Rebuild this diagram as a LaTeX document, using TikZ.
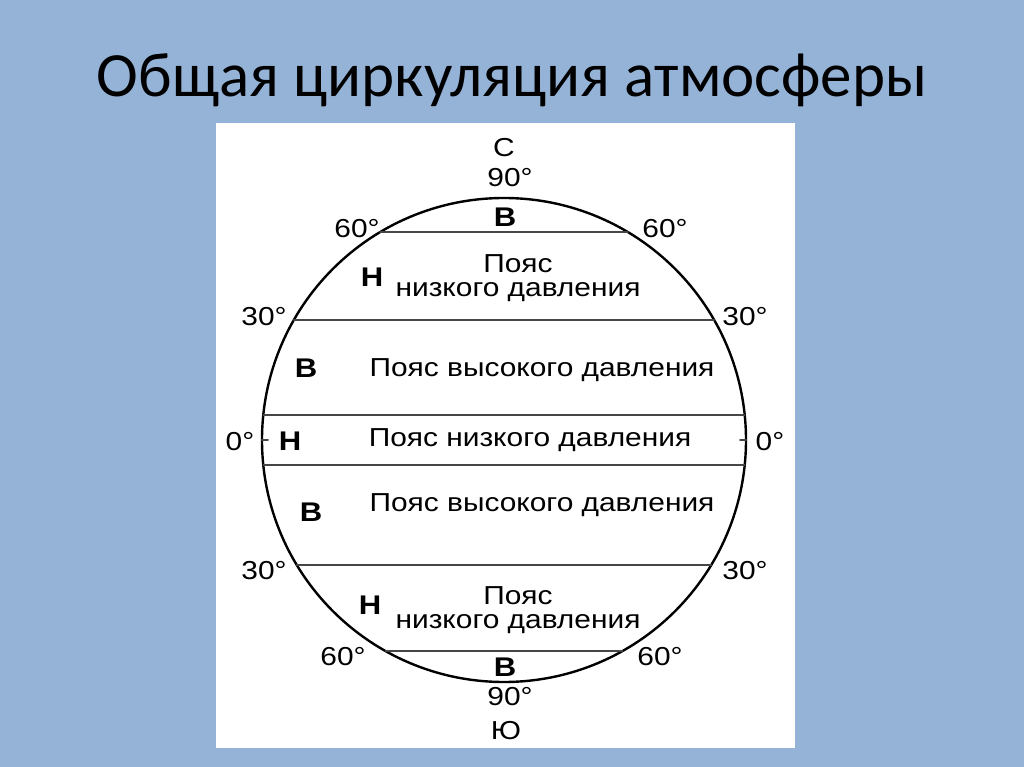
\documentclass[tikz,border=0pt]{standalone}
\usepackage{fontspec}
\setmainfont{Liberation Sans}[FakeStretch=1.15]
\newfontfamily\slidefont{Carlito}
\definecolor{slideblue}{RGB}{149,179,215}
\definecolor{bandgray}{RGB}{70,70,70}
\tikzset{
  slidetitle/.style={font=\slidefont\fontsize{63}{63}\selectfont,inner sep=0pt},
  deg/.style={font=\fontsize{26}{26}\selectfont,inner sep=0pt},
  beltname/.style={font=\fontsize{26}{24}\selectfont,inner sep=0pt,align=center},
  pres/.style={font=\bfseries\fontsize{27}{27}\selectfont,inner sep=0pt},
  globe/.style={line width=2.4pt},
  band/.style={line width=2pt,draw=bandgray},
}
\begin{document}
\begin{tikzpicture}[x=1pt,y=1pt,line join=round,line cap=round]
	\fill[slideblue] (-504,-327) rectangle (520,440);
	\useasboundingbox (-504,-327) rectangle (520,440);
	\node[slidetitle] (title) at (8,360) {Общая циркуляция атмосферы};
	\fill[white] (-288,317) rectangle (291,-308);
	\coordinate (O) at (0,0);
	\draw[globe] (O) circle (242);
	% latitudes
	\coordinate (N60l) at (120.8:242);
	\coordinate (N60r) at (59.2:242);
	\coordinate (N30l) at (150.3:242);
	\coordinate (N30r) at (29.7:242);
	\coordinate (Eql) at (174.1:242);
	\coordinate (Eqr) at (5.9:242);
	\coordinate (Esl) at (185.9:242);
	\coordinate (Esr) at (-5.9:242);
	\coordinate (S30l) at (211.1:242);
	\coordinate (S30r) at (-31.1:242);
	\coordinate (S60l) at (240.7:242);
	\coordinate (S60r) at (-60.7:242);
	\draw[band] (N60l) -- (N60r) (N30l) -- (N30r) (Eql) -- (Eqr)
		(Esl) -- (Esr) (S30l) -- (S30r) (S60l) -- (S60r);
	% equator ticks
	\coordinate (E0l) at (-242,0);
	\coordinate (E0r) at (242,0);
	\draw[band] (E0l) -- ++(6,0) (E0r) -- ++(-6,0);
	% degrees and poles
	\foreach \n/\p/\t in {north/{0,292}/С, top90/{6,262}/90°,
		d60nl/{-147,211}/60°, d60nr/{161,211}/60°,
		d30nl/{-240,123}/30°, d30nr/{241,123}/30°,
		d0l/{-264,-2}/0°, d0r/{266,-2}/0°,
		d30sl/{-240,-131}/30°, d30sr/{241,-131}/30°,
		d60sl/{-161,-217}/60°, d60sr/{156,-217}/60°,
		bot90/{6,-257}/90°, south/{2,-291}/Ю}
		\node[deg] (\n) at (\p) {\t};
	% pressure
	\foreach \n/\p/\t in {hpN/{1,223}/В, lpN/{-132,163}/Н, hpNt/{-198,72}/В,
		lpEq/{-214,-1}/Н, hpSt/{-193,-72}/В, lpS/{-134,-165}/Н, hpS/{1,-227}/В}
		\node[pres] (\n) at (\p) {\t};
	% belts
	\node[beltname] (beltN) at (14,162) {Пояс\\низкого давления};
	\node[beltname] (beltNt) at (38,70) {Пояс высокого давления};
	\node[beltname] (beltEq) at (26,0) {Пояс низкого давления};
	\node[beltname] (beltSt) at (38,-65) {Пояс высокого давления};
	\node[beltname] (beltS) at (14,-170) {Пояс\\низкого давления};
\end{tikzpicture}
\end{document}
